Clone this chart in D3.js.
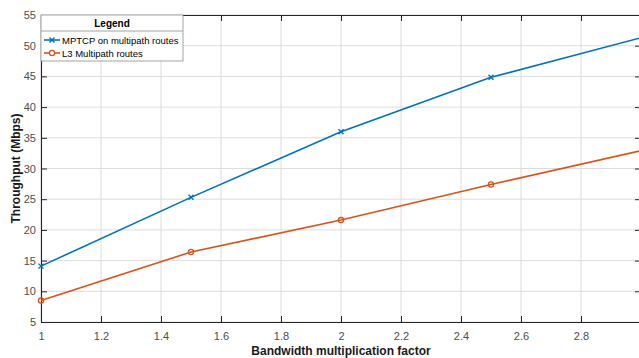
<!DOCTYPE html>
<html>
<head>
<meta charset="utf-8">
<script src="https://cdn.jsdelivr.net/npm/d3@7"></script>
<style>
  body { margin: 0; background: #fff; }
  svg { display: block; font-family: "Liberation Sans", Arial, sans-serif; }
</style>
</head>
<body>
<svg></svg>
<script>
// chart data
let factors = [1, 1.5, 2, 2.5, 3];
let mptcpValues = [14.1, 25.3, 36.0, 44.85, 51.3];
let l3Values = [8.5, 16.4, 21.6, 27.4, 32.9];
let seriesNames = ['MPTCP on multipath routes', 'L3 Multipath routes'];
let xTicks = [1, 1.2, 1.4, 1.6, 1.8, 2, 2.2, 2.4, 2.6, 2.8];
let yTicks = [5, 10, 15, 20, 25, 30, 35, 40, 45, 50, 55];

let width = 639;
let height = 358;
let blue = '#0072BD';
let orange = '#D95319';
let axisColor = '#262626';

let svg = d3.select('svg')
    .attr('width', width)
    .attr('height', height);

// plot box runs past the right edge of the window, like the original
let xScale = d3.scaleLinear().domain([1, 3]).range([41, 641]);
let yScale = d3.scaleLinear().domain([5, 55]).range([322, 15]);

// markers that fall on the cut-off right edge are hidden
svg.append('clipPath').attr('id', 'markclip')
    .append('rect')
    .attr('x', 0).attr('y', 0)
    .attr('width', 637).attr('height', height);

// grid
let grid = svg.append('g');
grid.selectAll('.vgrid')
    .data(xTicks)
    .enter()
    .append('line')
    .attr('x1', d => xScale(d)).attr('x2', d => xScale(d))
    .attr('y1', yScale(5)).attr('y2', yScale(55))
    .attr('stroke', '#dcdcdc').attr('stroke-width', 1);
grid.selectAll('.hgrid')
    .data(yTicks)
    .enter()
    .append('line')
    .attr('x1', xScale(1)).attr('x2', xScale(3))
    .attr('y1', d => yScale(d)).attr('y2', d => yScale(d))
    .attr('stroke', '#dcdcdc').attr('stroke-width', 1);

// axes (ticks inside the box)
let tickLen = 6;
let xAxis = d3.axisBottom(xScale).tickValues(xTicks).tickSizeInner(-tickLen).tickSizeOuter(0).tickPadding(10)
    .tickFormat(d3.format('~g'));
let gx = svg.append('g')
    .attr('transform', `translate(0, ${yScale(5)})`)
    .call(xAxis);

let yAxis = d3.axisLeft(yScale).tickValues(yTicks).tickSizeInner(-tickLen).tickSizeOuter(0).tickPadding(5);
let gy = svg.append('g')
    .attr('transform', `translate(${xScale(1)}, 0)`)
    .call(yAxis);

let xTop = d3.axisTop(xScale).tickValues(xTicks).tickSizeInner(-tickLen).tickSizeOuter(0).tickFormat('');
let gxTop = svg.append('g')
    .attr('transform', `translate(0, ${yScale(55)})`)
    .call(xTop);

let yRight = d3.axisRight(yScale).tickValues(yTicks).tickSizeInner(-tickLen).tickSizeOuter(0).tickFormat('');
let gyRight = svg.append('g')
    .attr('transform', `translate(${xScale(3)}, 0)`)
    .call(yRight);

[gx, gy, gxTop, gyRight].forEach(g => {
    g.select('.domain').attr('stroke', axisColor).attr('stroke-width', 1.1);
    g.selectAll('.tick line').attr('stroke', axisColor);
    g.selectAll('.tick text')
        .attr('fill', '#4d4d4d')
        .style('font-size', '11px')
        .style('font-family', '"Liberation Sans", Arial, sans-serif');
});

// lines
let mptcpData = factors.map((f, i) => ({ x: f, y: mptcpValues[i] }));
let l3Data = factors.map((f, i) => ({ x: f, y: l3Values[i] }));

let line = d3.line()
    .x(d => xScale(d.x))
    .y(d => yScale(d.y));

svg.append('path')
    .datum(mptcpData)
    .attr('d', line)
    .attr('fill', 'none')
    .attr('stroke', blue)
    .attr('stroke-width', 1.6);

svg.append('path')
    .datum(l3Data)
    .attr('d', line)
    .attr('fill', 'none')
    .attr('stroke', orange)
    .attr('stroke-width', 1.6);

// markers
let cross = d3.symbol().type(d3.symbolTimes).size(18);
let marks = svg.append('g').attr('clip-path', 'url(#markclip)');
marks.selectAll('.mx')
    .data(mptcpData)
    .enter()
    .append('path')
    .attr('d', cross)
    .attr('transform', d => `translate(${xScale(d.x)}, ${yScale(d.y)})`)
    .attr('fill', 'none')
    .attr('stroke', blue)
    .attr('stroke-width', 1.4);

marks.selectAll('.mo')
    .data(l3Data)
    .enter()
    .append('circle')
    .attr('cx', d => xScale(d.x))
    .attr('cy', d => yScale(d.y))
    .attr('r', 2.6)
    .attr('fill', 'none')
    .attr('stroke', orange)
    .attr('stroke-width', 1.3);

// axis labels
svg.append('text')
    .attr('x', 341)
    .attr('y', 355)
    .attr('text-anchor', 'middle')
    .style('font-size', '12px')
    .style('font-weight', 'bold')
    .attr('fill', '#1a1a1a')
    .text('Bandwidth multiplication factor');

svg.append('text')
    .attr('transform', `translate(20, ${yScale(30)}) rotate(-90)`)
    .attr('text-anchor', 'middle')
    .style('font-size', '12px')
    .style('font-weight', 'bold')
    .attr('fill', '#1a1a1a')
    .text('Throughput (Mbps)');

// legend
let legend = svg.append('g').attr('transform', 'translate(41, 15)');
legend.append('rect')
    .attr('x', 0).attr('y', 0)
    .attr('width', 142).attr('height', 46)
    .attr('fill', '#fff')
    .attr('stroke', '#8c8c8c')
    .attr('stroke-width', 0.8);
legend.append('line')
    .attr('x1', 0).attr('x2', 142)
    .attr('y1', 16).attr('y2', 16)
    .attr('stroke', '#8c8c8c')
    .attr('stroke-width', 0.8);
legend.append('text')
    .attr('x', 71).attr('y', 12)
    .attr('text-anchor', 'middle')
    .style('font-size', '10px')
    .style('font-weight', 'bold')
    .attr('fill', '#000')
    .text('Legend');

let entryColors = [blue, orange];
seriesNames.forEach((name, i) => {
    let y = 25 + i * 13;
    legend.append('line')
        .attr('x1', 3).attr('x2', 19)
        .attr('y1', y).attr('y2', y)
        .attr('stroke', entryColors[i])
        .attr('stroke-width', 1.6);
    if (i === 0) {
        legend.append('path')
            .attr('d', cross)
            .attr('transform', `translate(11, ${y})`)
            .attr('fill', 'none')
            .attr('stroke', blue)
            .attr('stroke-width', 1.4);
    } else {
        legend.append('circle')
            .attr('cx', 11).attr('cy', y).attr('r', 2.6)
            .attr('fill', '#fff')
            .attr('stroke', orange)
            .attr('stroke-width', 1.3);
    }
    legend.append('text')
        .attr('x', 21).attr('y', y + 3.5)
        .style('font-size', '9.5px')
        .attr('fill', '#000')
        .text(name);
});
</script>
</body>
</html>
